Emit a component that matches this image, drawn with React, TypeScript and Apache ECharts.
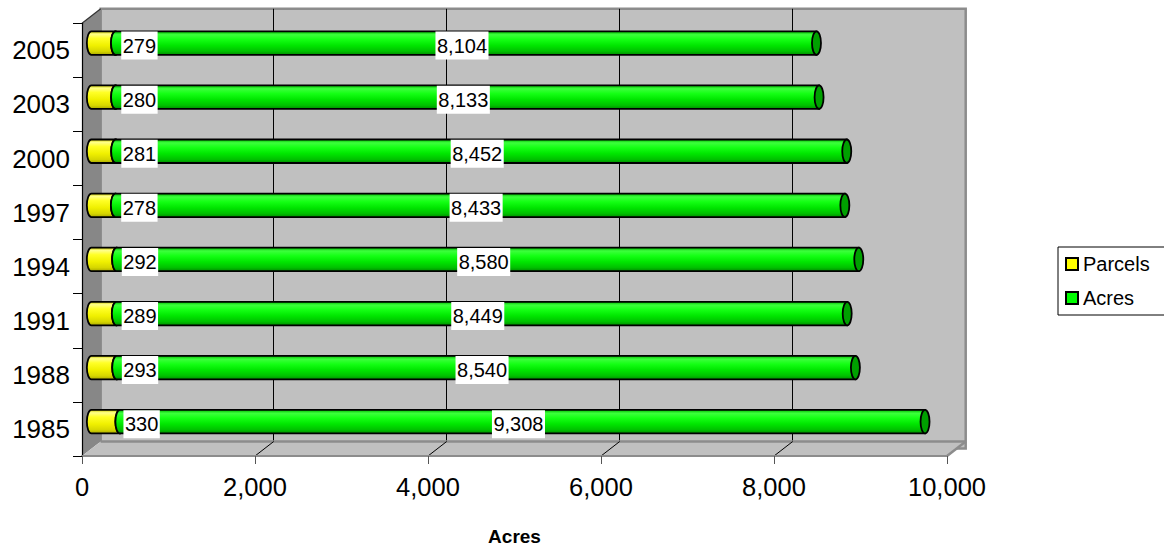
import React, { useEffect, useRef } from 'react';
import * as echarts from 'echarts';

// Survey years, bottom to top
const years = ['1985', '1988', '1991', '1994', '1997', '2000', '2003', '2005'];
const parcels = [330, 293, 289, 292, 278, 281, 280, 279];
const acres = [9308, 8540, 8449, 8580, 8433, 8452, 8133, 8104];
const xTicks = [0, 2000, 4000, 6000, 8000, 10000];
const seriesNames = ['Parcels', 'Acres'];
const axisTitle = 'Acres';

const FONT = 'Arial, "Liberation Sans", Helvetica, sans-serif';

// Front plane of the plot box and the depth of the 3D box
const FRONT = { left: 82, top: 23.3, width: 865, height: 439.7 };
const DEPTH_X = 18.7;
const DEPTH_Y = -14.5;
// Cylinders sit half-way into the box
const BAR_DX = DEPTH_X / 2;
const BAR_DY = DEPTH_Y / 2;
const BAR_H = 23.5;
const CAP_RX = 4.5;

const fmt = (v: number) => v.toLocaleString('en-US');

const yellowBody = new echarts.graphic.LinearGradient(0, 0, 0, 1, [
  { offset: 0, color: '#caca00' },
  { offset: 0.12, color: '#ffff8a' },
  { offset: 0.3, color: '#ffff26' },
  { offset: 0.6, color: '#f0f000' },
  { offset: 0.85, color: '#d6d600' },
  { offset: 1, color: '#a8a800' },
]);
const greenBody = new echarts.graphic.LinearGradient(0, 0, 0, 1, [
  { offset: 0, color: '#00b400' },
  { offset: 0.14, color: '#3cff3c' },
  { offset: 0.35, color: '#14ff14' },
  { offset: 0.6, color: '#00e600' },
  { offset: 0.85, color: '#00c000' },
  { offset: 1, color: '#008c00' },
]);

// One horizontal cylinder per data item, with its value label
function cylinder(body: any, capFill: string, z2: number, labelShift: number) {
  return (params: any, api: any) => {
    const start = api.value(0) as number;
    const end = api.value(1) as number;
    const cat = api.value(2) as number;
    const shown = api.value(3) as number;
    const a = api.coord([start, cat]);
    const b = api.coord([end, cat]);
    const x0 = a[0] + BAR_DX;
    const x1 = b[0] + BAR_DX;
    const yc = a[1] + BAR_DY;
    const ry = BAR_H / 2;
    const t = yc - ry;
    const bt = yc + ry;
    const d = `M${x0} ${t}L${x1} ${t}L${x1} ${bt}L${x0} ${bt}A${CAP_RX} ${ry} 0 0 1 ${x0} ${t}Z`;
    return {
      type: 'group',
      children: [
        {
          type: 'path',
          shape: { pathData: d },
          style: { fill: body, stroke: '#000', lineWidth: 1.8 },
          z2,
        },
        {
          type: 'ellipse',
          shape: { cx: x1, cy: yc, rx: CAP_RX, ry },
          style: { fill: capFill, stroke: '#000', lineWidth: 1.8 },
          z2: z2 + 1,
        },
        {
          type: 'text',
          x: (x0 + x1) / 2 + labelShift,
          y: yc + 2.5,
          style: {
            text: fmt(shown),
            font: `20px ${FONT}`,
            fill: '#000',
            align: 'center',
            verticalAlign: 'middle',
            backgroundColor: '#fff',
            padding: [4, 1.5, 4, 1.5],
          },
          z2: 100,
        },
      ],
    };
  };
}

// Left wall, floor and floor grid lines of the 3D box
function renderFrame(params: any, api: any) {
  const cs = params.coordSys;
  const gx = cs.x;
  const gy = cs.y;
  const gw = cs.width;
  const gb = cs.y + cs.height;
  const children: any[] = [
    {
      type: 'polygon',
      shape: { points: [[gx, gy], [gx + DEPTH_X, gy + DEPTH_Y], [gx + DEPTH_X, gb + DEPTH_Y], [gx, gb]] },
      style: { fill: '#878787' },
    },
    {
      type: 'polygon',
      shape: { points: [[gx, gb], [gx + DEPTH_X, gb + DEPTH_Y], [gx + gw + DEPTH_X, gb + DEPTH_Y], [gx + gw, gb]] },
      style: { fill: '#c0c0c0' },
    },
    {
      type: 'line',
      shape: { x1: gx + DEPTH_X, y1: gb + DEPTH_Y, x2: gx + gw + DEPTH_X, y2: gb + DEPTH_Y },
      style: { stroke: '#8c8c8c', lineWidth: 2.5 },
    },
    {
      type: 'line',
      shape: { x1: gx, y1: gy, x2: gx + DEPTH_X, y2: gy + DEPTH_Y },
      style: { stroke: '#333', lineWidth: 1.2 },
    },
    {
      type: 'line',
      shape: { x1: gx + gw, y1: gb, x2: gx + gw + DEPTH_X, y2: gb + DEPTH_Y },
      style: { stroke: '#8c8c8c', lineWidth: 2.5 },
    },
  ];
  xTicks.slice(1, -1).forEach((v) => {
    const p = api.coord([v, 0]);
    children.push({
      type: 'line',
      shape: { x1: p[0], y1: gb, x2: p[0] + DEPTH_X, y2: gb + DEPTH_Y },
      style: { stroke: '#000', lineWidth: 1 },
    });
  });
  return { type: 'group', children };
}

const parcelsData = years.map((y, i) => [0, parcels[i], y, parcels[i]]);
const acresData = years.map((y, i) => [parcels[i], parcels[i] + acres[i], y, acres[i]]);

const option: any = {
  animation: false,
  backgroundColor: '#fff',
  textStyle: { fontFamily: FONT },
  grid: [
    { ...FRONT, containLabel: false },
    {
      left: FRONT.left + DEPTH_X,
      top: FRONT.top + DEPTH_Y,
      width: FRONT.width,
      height: FRONT.height,
      show: true,
      backgroundColor: '#c0c0c0',
      borderColor: '#8c8c8c',
      borderWidth: 2.5,
    },
  ],
  xAxis: [
    {
      gridIndex: 0,
      type: 'value',
      min: xTicks[0],
      max: xTicks[xTicks.length - 1],
      interval: xTicks[1] - xTicks[0],
      z: 4,
      name: axisTitle,
      nameLocation: 'middle',
      nameGap: 71,
      nameTextStyle: { fontFamily: FONT, fontSize: 19, fontWeight: 'bold', color: '#000' },
      axisLine: { show: true, lineStyle: { color: '#8c8c8c', width: 2 } },
      axisTick: { show: true, length: 8, lineStyle: { color: '#555', width: 1 } },
      axisLabel: { fontFamily: FONT, fontSize: 25.5, color: '#000', margin: 18, formatter: (v: number) => fmt(v) },
      splitLine: { show: false },
    },
    {
      gridIndex: 1,
      type: 'value',
      min: xTicks[0],
      max: xTicks[xTicks.length - 1],
      interval: xTicks[1] - xTicks[0],
      axisLine: { show: false },
      axisTick: { show: false },
      axisLabel: { show: false },
      splitLine: { show: true, showMinLine: false, showMaxLine: false, lineStyle: { color: '#000', width: 1 } },
    },
  ],
  yAxis: [
    {
      gridIndex: 0,
      type: 'category',
      data: years,
      z: 4,
      axisLine: { show: true, lineStyle: { color: '#000', width: 1.2 } },
      axisTick: { show: true, length: 9, lineStyle: { color: '#000', width: 1 } },
      axisLabel: { fontFamily: FONT, fontSize: 26, color: '#000', margin: 12 },
      splitLine: { show: false },
    },
    {
      gridIndex: 1,
      type: 'category',
      data: years,
      show: false,
    },
  ],
  legend: {
    orient: 'vertical',
    left: 1058,
    top: 247,
    padding: [6, 16, 6, 7],
    borderColor: '#000',
    borderWidth: 1,
    itemWidth: 12,
    itemHeight: 12,
    itemGap: 12,
    textStyle: { fontFamily: FONT, fontSize: 20, color: '#000', lineHeight: 22 },
    data: [
      { name: seriesNames[0], icon: 'rect', itemStyle: { color: '#ffff00', borderColor: '#000', borderWidth: 2 } },
      { name: seriesNames[1], icon: 'rect', itemStyle: { color: '#00ff00', borderColor: '#000', borderWidth: 2 } },
    ],
  },
  series: [
    {
      type: 'custom',
      name: 'frame',
      xAxisIndex: 0,
      yAxisIndex: 0,
      silent: true,
      z: 1,
      renderItem: renderFrame,
      data: [[0, 0]],
      encode: { x: 0, y: 1 },
    },
    {
      type: 'custom',
      name: seriesNames[0],
      xAxisIndex: 0,
      yAxisIndex: 0,
      z: 3,
      itemStyle: { color: '#ffff00' },
      renderItem: cylinder(yellowBody, '#c4c400', 10, 36),
      dimensions: ['from', 'to', { name: 'year', type: 'ordinal' }, 'value'],
      encode: { x: [0, 1], y: 2 },
      data: parcelsData,
    },
    {
      type: 'custom',
      name: seriesNames[1],
      xAxisIndex: 0,
      yAxisIndex: 0,
      z: 3,
      itemStyle: { color: '#00ff00' },
      renderItem: cylinder(greenBody, '#00a000', 20, -4),
      dimensions: ['from', 'to', { name: 'year', type: 'ordinal' }, 'value'],
      encode: { x: [0, 1], y: 2 },
      data: acresData,
    },
  ],
};

export default function App() {
  const ref = useRef<HTMLDivElement>(null);
  useEffect(() => {
    const chart = echarts.init(ref.current as HTMLDivElement, null, { renderer: 'svg' });
    chart.setOption(option);
    return () => chart.dispose();
  }, []);
  return (
    <div
      ref={ref}
      style={{ position: 'absolute', left: 0, top: 0, width: 1164, height: 551, background: '#fff' }}
    />
  );
}
